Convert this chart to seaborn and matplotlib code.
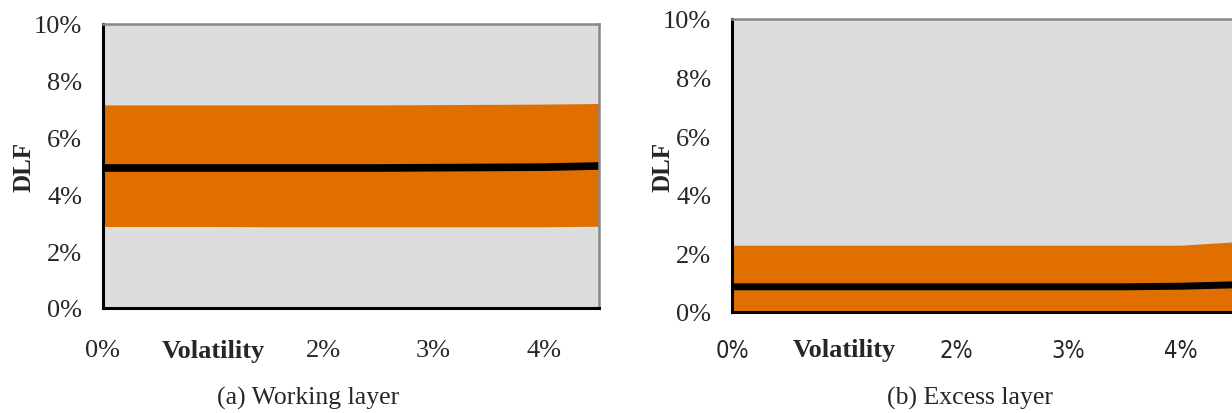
import numpy as np
import pandas as pd
import matplotlib
matplotlib.use("Agg")
import matplotlib.pyplot as plt
import seaborn as sns

# volatility grid (in %)
volatility = [0.0, 0.5, 1.0, 1.5, 2.0, 2.5, 3.0, 3.5, 4.0, 4.5]

# (a) working layer DLF (in %)
work_mean = [4.93, 4.93, 4.93, 4.93, 4.93, 4.93, 4.94, 4.95, 4.96, 5.00]
work_low = [2.87, 2.87, 2.87, 2.86, 2.86, 2.86, 2.86, 2.86, 2.86, 2.88]
work_high = [7.15, 7.15, 7.15, 7.15, 7.15, 7.15, 7.16, 7.17, 7.18, 7.20]

# (b) excess layer DLF (in %)
exc_mean = [0.86, 0.86, 0.86, 0.86, 0.86, 0.86, 0.86, 0.86, 0.88, 0.93]
exc_low = [0.0, 0.0, 0.0, 0.0, 0.0, 0.0, 0.0, 0.0, 0.0, 0.0]
exc_high = [2.28, 2.28, 2.28, 2.28, 2.28, 2.28, 2.28, 2.28, 2.28, 2.40]

y_ticks = [0, 2, 4, 6, 8, 10]
y_labels = ["0%", "2%", "4%", "6%", "8%", "10%"]
x_ticks = [0, 1, 2, 3, 4]
x_labels = ["0%", "Volatility", "2%", "3%", "4%"]
captions = ["(a) Working layer", "(b) Excess layer"]

sns.set_theme(style="white")
serif = ["Liberation Serif", "DejaVu Serif"]
plt.rcParams["font.family"] = serif

orange = "#e06f00"
band_bg = "#dddddd"

fig = plt.figure(figsize=(12.32, 4.14), dpi=100)
ax1 = fig.add_axes([103 / 1232, (414 - 309) / 414, 496 / 1232, 284 / 414])
ax2 = fig.add_axes([732 / 1232, (414 - 313) / 414, 505 / 1232, 293 / 414])

panels = [
    (ax1, work_mean, work_low, work_high, 5.5, "serif", -0.137, 22),
    (ax2, exc_mean, exc_low, exc_high, 5.0, "sans", -0.113, 19),
]

for ax, mean, low, high, lw, xfont, ylab_x, xpad in panels:
    df = pd.DataFrame({"vol": volatility, "mean": mean, "low": low, "high": high})
    ax.set_facecolor(band_bg)
    ax.fill_between(df["vol"], df["low"], df["high"], color=orange, lw=0, zorder=1)
    sns.lineplot(data=df, x="vol", y="mean", color="black", lw=lw, ax=ax, zorder=2)
    ax.set_xlim(0, 4.5)
    ax.set_ylim(0, 10)
    ax.set_yticks(y_ticks)
    ax.set_yticklabels(y_labels, fontsize=19)
    ax.set_xticks(x_ticks)
    ax.set_xticklabels(x_labels)
    for i, t in enumerate(ax.get_xticklabels()):
        if i == 1:
            t.set_fontweight("bold")
            t.set_fontfamily(serif)
            t.set_fontsize(19)
        elif xfont == "serif":
            t.set_fontsize(19)
        else:
            t.set_fontfamily(["DejaVu Sans"])
            t.set_fontstretch("condensed")
            t.set_fontsize(17)
    ax.tick_params(axis="x", length=0, pad=xpad)
    ax.tick_params(axis="y", length=8, width=2, color="black", direction="out", pad=7)
    ax.set_xlabel("")
    ax.set_ylabel("DLF", fontsize=18, fontweight="bold")
    ax.yaxis.set_label_coords(ylab_x, 0.5)
    for side in ["left", "bottom"]:
        ax.spines[side].set_color("black")
        ax.spines[side].set_linewidth(2.2)
    for side in ["top", "right"]:
        ax.spines[side].set_color("#888888")
        ax.spines[side].set_linewidth(1.8)
    ax.grid(False)

fig.text(308 / 1232, 1 - 398 / 414, captions[0], ha="center", va="center", fontsize=18.5)
fig.text(970 / 1232, 1 - 398 / 414, captions[1], ha="center", va="center", fontsize=18.5)

fig.savefig("out.png", dpi=100)
